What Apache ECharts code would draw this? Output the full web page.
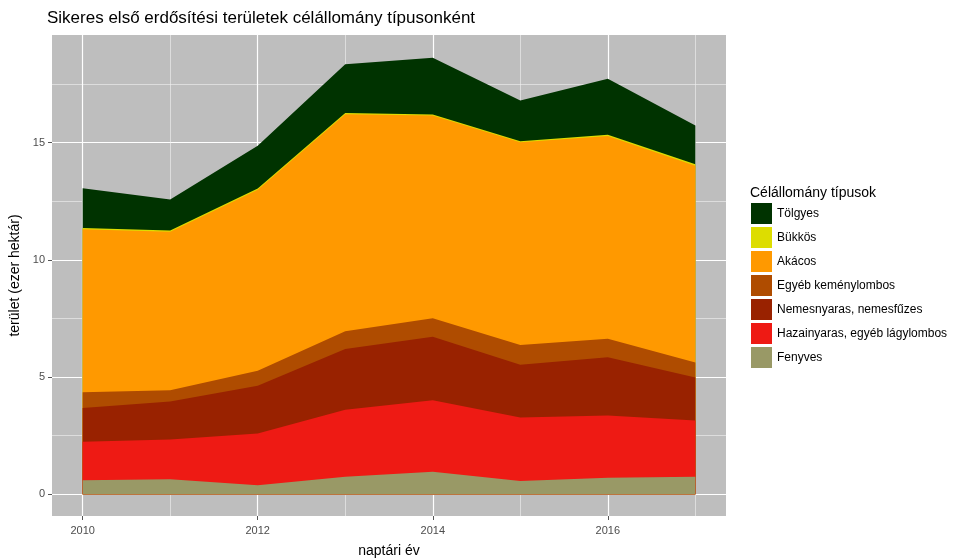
<!DOCTYPE html>
<html>
<head>
<meta charset="utf-8">
<script src="https://cdn.jsdelivr.net/npm/echarts@6/dist/echarts.min.js"></script>
<style>
html, body { margin: 0; padding: 0; background: #fff; }
#chart { width: 959px; height: 559px; }
</style>
</head>
<body>
<div id="chart"></div>
<script>
// years and layer values (ezer hektár)
var years = [2010, 2011, 2012, 2013, 2014, 2015, 2016, 2017];
var fenyves = [0.59, 0.64, 0.38, 0.74, 0.96, 0.56, 0.70, 0.74];
var hazai = [1.64, 1.69, 2.21, 2.86, 3.05, 2.71, 2.65, 2.40];
var nemes = [1.45, 1.62, 2.03, 2.59, 2.71, 2.25, 2.49, 1.84];
var egyeb = [0.67, 0.48, 0.64, 0.76, 0.78, 0.84, 0.79, 0.64];
var akac = [6.95, 6.77, 7.73, 9.26, 8.65, 8.65, 8.65, 8.39];
var bukkos = [0.05, 0.05, 0.05, 0.05, 0.05, 0.05, 0.05, 0.06];
var tolgyes = [1.70, 1.32, 1.82, 2.08, 2.42, 1.74, 2.39, 1.66];

var xMajor = [2010, 2012, 2014, 2016];
var xMinor = [2011, 2013, 2015, 2017];
var yMajor = [0, 5, 10, 15];
var yMinor = [2.5, 7.5, 12.5, 17.5];

// bottom to top
var names = ['Fenyves', 'Hazainyaras, egyéb lágylombos', 'Nemesnyaras, nemesfűzes',
	'Egyéb keménylombos', 'Akácos', 'Bükkös', 'Tölgyes'];
var colors = ['#999966', '#ee1a14', '#992200', '#af4c00', '#ff9900', '#dddd00', '#003300'];
var values = [fenyves, hazai, nemes, egyeb, akac, bukkos, tolgyes];

var chart = echarts.init(document.getElementById('chart'));

// running totals, each layer filled down to zero; top layer drawn first
var cum = [];
var run = years.map(function() { return 0; });
for (var i = 0; i < values.length; i++) {
	run = run.map(function(v, j) { return v + values[i][j]; });
	cum.push(run.slice());
}

var series = [];
for (var i = names.length - 1; i >= 0; i--) {
	var pts = [];
	for (var j = 0; j < years.length; j++) {
		pts.push([years[j], cum[i][j]]);
	}
	series.push({
		name : names[i],
		type : 'line',
		symbol : 'none',
		lineStyle : { width : 0 },
		areaStyle : { color : colors[i], opacity : 1, origin : 0 },
		itemStyle : { color : colors[i] },
		data : pts
	});
}

var font = 'Liberation Sans, Arial, sans-serif';
var xMin = 2009.65, xMax = 2017.35, yMin = -0.933, yMax = 19.59;

var option = {
	animation : false,
	textStyle : { fontFamily : font },
	title : [ {
		text : 'Sikeres első erdősítési területek célállomány típusonként',
		left : 42,
		top : 5,
		textStyle : { fontSize : 17, fontWeight : 'normal', color : '#000', fontFamily : font }
	}, {
		text : 'Célállomány típusok',
		left : 745,
		top : 181,
		textStyle : { fontSize : 14, fontWeight : 'normal', color : '#000', fontFamily : font }
	} ],
	legend : {
		orient : 'vertical',
		left : 746,
		top : 198,
		itemWidth : 21,
		itemHeight : 21,
		itemGap : 3,
		icon : 'rect',
		data : names.slice().reverse(),
		textStyle : { fontSize : 12, color : '#000', fontFamily : font },
		selectedMode : false
	},
	grid : {
		left : 52,
		right : 233,
		top : 35,
		bottom : 43,
		outerBoundsMode : 'none',
		containLabel : false,
		show : true,
		backgroundColor : '#bebebe',
		borderWidth : 0
	},
	xAxis : [ {
		type : 'value',
		min : xMin,
		max : xMax,
		name : 'naptári év',
		nameLocation : 'middle',
		nameGap : 28,
		nameTextStyle : { fontSize : 14, color : '#000' },
		axisLine : { show : false, onZero : false },
		axisTick : { show : true, length : 4, customValues : xMajor, lineStyle : { color : '#555' } },
		axisLabel : { customValues : xMajor, color : '#4d4d4d', fontSize : 11, margin : 9,
			formatter : function(v) { return String(v); } },
		splitLine : { show : true, lineStyle : { color : '#fff', width : 1.2 } }
	}, {
		type : 'value',
		min : xMin,
		max : xMax,
		axisLine : { show : false, onZero : false },
		axisTick : { show : false, customValues : xMinor },
		axisLabel : { show : false, customValues : xMinor },
		splitLine : { show : true, lineStyle : { color : '#f2f2f2', width : 0.6 } }
	} ],
	yAxis : [ {
		type : 'value',
		min : yMin,
		max : yMax,
		name : 'terület (ezer hektár)',
		nameLocation : 'middle',
		nameGap : 20,
		nameTextStyle : { fontSize : 14, color : '#000' },
		axisLine : { show : false, onZero : false },
		axisTick : { show : true, length : 4, customValues : yMajor, lineStyle : { color : '#555' } },
		axisLabel : { customValues : yMajor, color : '#4d4d4d', fontSize : 11, margin : 7 },
		splitLine : { show : true, lineStyle : { color : '#fff', width : 1.2 } }
	}, {
		type : 'value',
		min : yMin,
		max : yMax,
		axisLine : { show : false, onZero : false },
		axisTick : { show : false, customValues : yMinor },
		axisLabel : { show : false, customValues : yMinor },
		splitLine : { show : true, lineStyle : { color : '#f2f2f2', width : 0.6 } }
	} ],
	series : series
};

chart.setOption(option);
</script>
</body>
</html>
